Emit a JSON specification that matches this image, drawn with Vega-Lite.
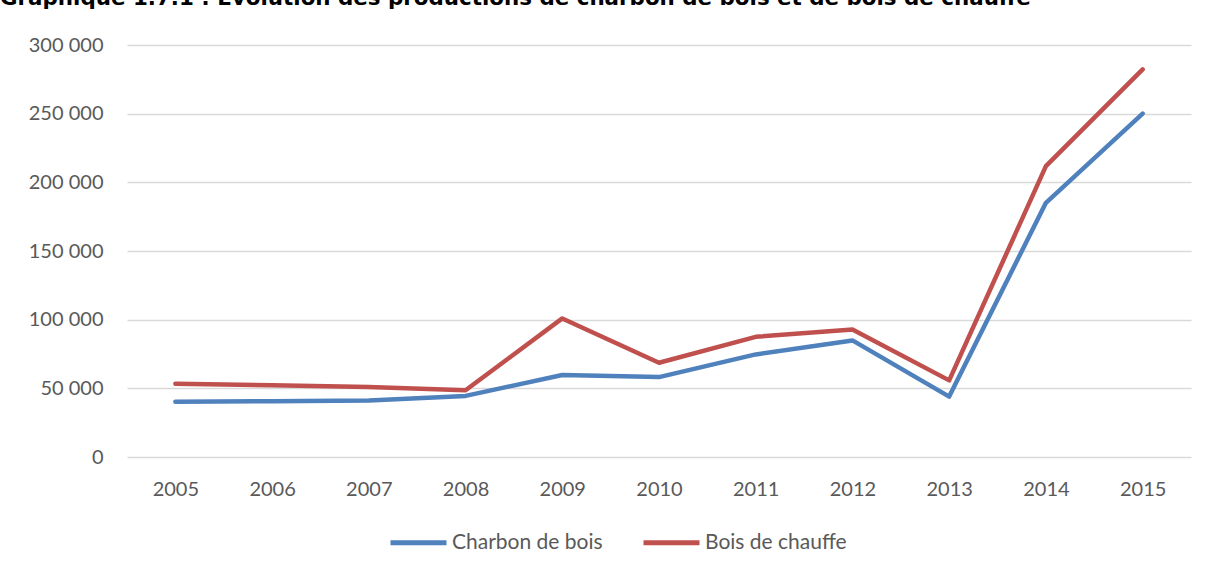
{
  "$schema": "https://vega.github.io/schema/vega-lite/v6.json",
  "width": 1064,
  "height": 412,
  "autosize": {"type": "none"},
  "padding": {"left": 127, "top": 45, "right": 15, "bottom": 115},
  "background": "white",
  "title": {
    "text": "Graphique 1.7.1 : Evolution des productions de charbon de bois et de bois de chauffe",
    "anchor": "start",
    "frame": "group",
    "dx": -127,
    "offset": 9,
    "baseline": "alphabetic",
    "font": "DejaVu Sans",
    "fontSize": 21.4,
    "fontWeight": "bold",
    "color": "#000000"
  },
  "config": {
    "view": {"stroke": null},
    "locale": {"number": {"decimal": ",", "thousands": " ", "grouping": [3], "currency": ["", " €"]}}
  },
  "data": {
    "values": [
      {"year": "2005", "series": "Charbon de bois", "value": 40300},
      {"year": "2006", "series": "Charbon de bois", "value": 40600},
      {"year": "2007", "series": "Charbon de bois", "value": 41200},
      {"year": "2008", "series": "Charbon de bois", "value": 44500},
      {"year": "2009", "series": "Charbon de bois", "value": 59700},
      {"year": "2010", "series": "Charbon de bois", "value": 58200},
      {"year": "2011", "series": "Charbon de bois", "value": 74700},
      {"year": "2012", "series": "Charbon de bois", "value": 84900},
      {"year": "2013", "series": "Charbon de bois", "value": 44000},
      {"year": "2014", "series": "Charbon de bois", "value": 185100},
      {"year": "2015", "series": "Charbon de bois", "value": 250100},
      {"year": "2005", "series": "Bois de chauffe", "value": 53400},
      {"year": "2006", "series": "Bois de chauffe", "value": 52300},
      {"year": "2007", "series": "Bois de chauffe", "value": 51000},
      {"year": "2008", "series": "Bois de chauffe", "value": 48600},
      {"year": "2009", "series": "Bois de chauffe", "value": 100900},
      {"year": "2010", "series": "Bois de chauffe", "value": 68600},
      {"year": "2011", "series": "Bois de chauffe", "value": 87500},
      {"year": "2012", "series": "Bois de chauffe", "value": 92900},
      {"year": "2013", "series": "Bois de chauffe", "value": 55800},
      {"year": "2014", "series": "Bois de chauffe", "value": 211800},
      {"year": "2015", "series": "Bois de chauffe", "value": 282200}
    ]
  },
  "mark": {"type": "line", "strokeWidth": 4.5, "strokeCap": "round", "strokeJoin": "round"},
  "encoding": {
    "x": {
      "field": "year",
      "type": "ordinal",
      "scale": {"type": "point", "padding": 0.5},
      "axis": {
        "title": null,
        "labelAngle": 0,
        "domain": false,
        "ticks": false,
        "grid": false,
        "labelFont": "Lato",
        "labelFontSize": 20,
        "labelColor": "#595959",
        "labelPadding": 22
      }
    },
    "y": {
      "field": "value",
      "type": "quantitative",
      "scale": {"domain": [0, 300000], "nice": false},
      "axis": {
        "title": null,
        "values": [0, 50000, 100000, 150000, 200000, 250000, 300000],
        "format": ",d",
        "domain": false,
        "ticks": false,
        "grid": true,
        "gridColor": "#d9d9d9",
        "gridWidth": 1.5,
        "labelFont": "Lato",
        "labelFontSize": 20,
        "labelColor": "#595959",
        "labelPadding": 24
      }
    },
    "color": {
      "field": "series",
      "type": "nominal",
      "scale": {"domain": ["Charbon de bois", "Bois de chauffe"], "range": ["#4f81bd", "#c0504d"]},
      "legend": {
        "title": null,
        "orient": "none",
        "direction": "horizontal",
        "legendX": 261,
        "legendY": 467,
        "symbolType": "stroke",
        "symbolSize": 3136,
        "symbolStrokeWidth": 5,
        "labelFont": "Lato",
        "labelFontSize": 21,
        "labelColor": "#595959",
        "labelOffset": 3,
        "columnPadding": 30
      }
    }
  }
}
